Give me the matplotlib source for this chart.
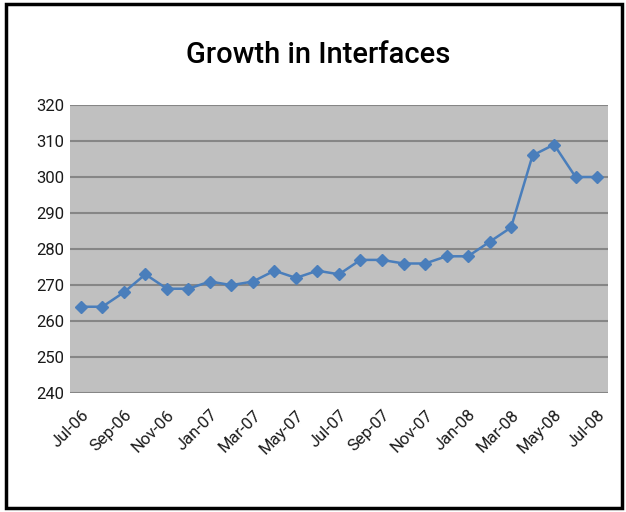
import matplotlib
matplotlib.use("Agg")
import matplotlib.pyplot as plt
from matplotlib.patches import Rectangle

# --- Datos ---
months = ["Jul-06", "Aug-06", "Sep-06", "Oct-06", "Nov-06", "Dec-06",
          "Jan-07", "Feb-07", "Mar-07", "Apr-07", "May-07", "Jun-07",
          "Jul-07", "Aug-07", "Sep-07", "Oct-07", "Nov-07", "Dec-07",
          "Jan-08", "Feb-08", "Mar-08", "Apr-08", "May-08", "Jun-08", "Jul-08"]
interfaces = [264, 264, 268, 273, 269, 269,
              271, 270, 271, 274, 272, 274,
              273, 277, 277, 276, 276, 278,
              278, 282, 286, 306, 309, 300, 300]
y_ticks = [240, 250, 260, 270, 280, 290, 300, 310, 320]

plt.rcParams['font.family'] = ['Roboto', 'DejaVu Sans']

fig = plt.figure(figsize=(6.26, 5.12), dpi=100)
ax = fig.add_axes([0.112, 0.232, 0.859, 0.563])
ax.set_facecolor("#C0C0C0")

x = list(range(len(months)))
ax.plot(x, interfaces, color="#4A7EBB", linewidth=1.8, marker="D",
        markersize=6, markerfacecolor="#4A7EBB", markeredgecolor="#4A7EBB", zorder=3)

ax.set_xlim(-0.5, len(months) - 0.5)
ax.set_ylim(240, 320)
ax.set_yticks(y_ticks)
ax.yaxis.grid(True, color="#868686", linewidth=1.5)
ax.set_axisbelow(True)

ax.set_xticks(x[::2])
ax.set_xticklabels(months[::2], rotation=45, ha="right", rotation_mode="anchor",
                   fontsize=12, color="#1a1a1a")
ax.tick_params(axis="both", length=0, labelsize=12, colors="#1a1a1a")
ax.tick_params(axis="y", pad=4)
ax.tick_params(axis="x", pad=10)
for s in ax.spines.values():
    s.set_visible(False)

fig.text(0.508, 0.893, "Growth in Interfaces", ha="center", va="center",
         fontsize=21, fontweight="medium", color="black")

# marco negro alrededor de la figura
fig.patches.append(Rectangle((0.010, 0.008), 0.984, 0.985, transform=fig.transFigure,
                             fill=False, edgecolor="black", linewidth=2.5))

fig.savefig("out.png", dpi=100)
